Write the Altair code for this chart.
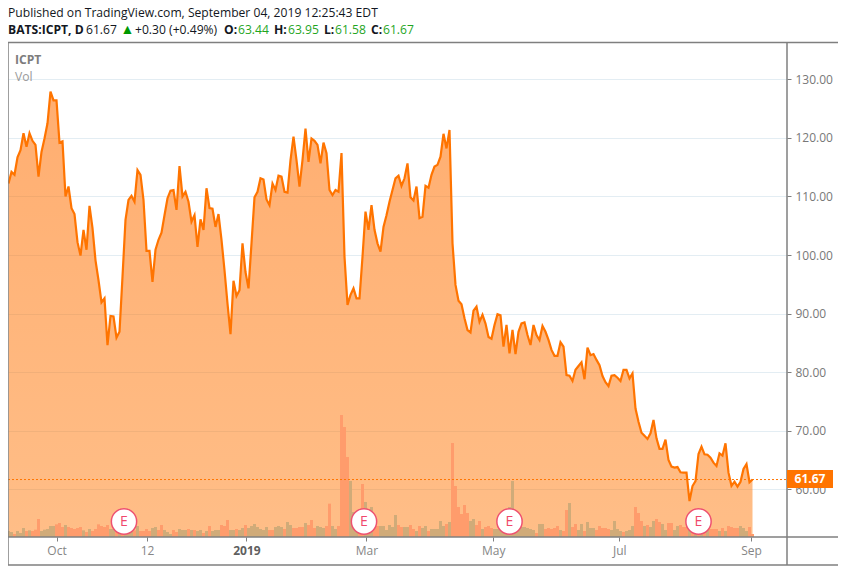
import altair as alt
import pandas as pd

close = [
    112.2, 114.2, 113.7, 116.7, 117.9, 120.8, 118.5, 120.8, 119.5, 118.8,
    113.4, 117.6, 119.9, 122.5, 127.9, 126.4, 126.4, 119.2, 119.4, 110.0,
    111.7, 108.0, 107.0, 102.2, 99.9, 104.3, 100.9, 108.4, 104.6, 99.1,
    95.7, 91.9, 92.6, 84.6, 89.6, 89.5, 85.9, 86.9, 96.3, 106.0,
    109.4, 110.1, 109.1, 114.5, 113.7, 109.4, 100.7, 100.7, 95.4, 100.9,
    102.6, 103.8, 106.8, 109.7, 111.0, 111.1, 107.7, 115.2, 110.0, 110.8,
    109.1, 105.7, 106.8, 101.4, 106.1, 104.3, 111.4, 108.0, 107.9, 104.8,
    107.0, 102.6, 97.4, 91.7, 86.5, 95.6, 93.0, 94.0, 102.0, 97.1, 94.3,
    102.0, 109.85, 110.8, 113.1, 112.9, 109.5, 108.5, 112.2, 111.1, 113.55,
    113.4, 110.8, 110.65, 116.2, 120.2, 116.2, 111.7, 116.2, 121.6, 115.9,
    119.9, 119.5, 118.8, 115.65, 119.2, 117.4, 111.1, 110.25, 111.1, 110.8,
    117.4, 99.7, 91.5, 93.2, 94.3, 92.6, 92.6, 99.7, 107.4, 104.3,
    108.5, 104.3, 102.0, 100.6, 104.8, 106.8, 109.1, 111.1, 113.1, 113.55,
    111.8, 113.1, 115.65, 109.85, 109.3, 111.7, 106.3, 106.55, 111.8, 111.5,
    113.7, 115.1, 115.4, 116.8, 120.7, 118.2, 121.35,
    102.0, 94.9, 92.2, 91.6, 89.2, 87.2, 86.8, 90.5, 91.2, 88.6, 89.8, 88.3, 86.0,
    85.7, 88.06, 89.9, 89.7, 84.35, 88.06, 83.2, 87.2, 83.1, 86.9,
    88.34, 88.5, 86.35, 84.64, 88.06, 86.35, 85.5, 87.9, 86.9, 85.5,
    83.8, 82.8, 82.8, 85.1, 84.35, 79.5, 79.4, 78.5, 80.4, 81.06,
    81.7, 78.8, 84.2, 82.9, 83.1, 82.1, 81.2, 79.35, 78.3, 77.64,
    79.4, 79.5, 79.06, 78.5, 80.4, 80.4, 78.95, 79.8, 73.8, 71.55,
    69.67, 69.16, 68.6, 69.56, 71.84, 68.7, 66.9, 66.9, 68.5, 65.0,
    63.87, 63.7, 63.8, 62.9, 62.84, 62.84, 58.0, 60.56, 61.4, 66.03,
    67.28, 65.97, 65.9, 65.4, 64.55, 63.98, 66.14, 65.75, 67.85, 62.84,
    60.6, 61.3, 60.45, 61.3, 63.47, 64.32, 61.2, 61.67,
]

volume = [
    18, 15, 9, 18, 12, 27, 18, 20, 18, 22,
    54, 18, 22, 24, 33, 33, 38, 42, 30, 36,
    30, 27, 24, 27, 30, 20, 15, 24, 18, 24,
    38, 33, 30, 36, 24, 24, 20, 24, 20, 24,
    20, 24, 20, 33, 18, 18, 24, 18, 27, 30,
    21, 36, 21, 15, 9, 21, 15, 24, 21, 21,
    24, 21, 21, 18, 21, 12, 18, 33, 18, 21,
    21, 36, 33, 51, 21, 21, 24, 21, 27, 36,
    27, 33, 39, 30, 24, 21, 30, 21, 21, 30,
    33, 30, 24, 45, 36, 27, 27, 30, 30, 42,
    36, 51, 27, 33, 30, 27, 33, 100, 33, 24,
    33, 366, 330, 240, 168, 75, 75, 60, 159, 105,
    75, 90, 50, 33, 33, 33, 21, 36, 30, 66,
    36, 30, 30, 30, 36, 24, 18, 33, 27, 33,
    18, 24, 24, 24, 48, 33, 39, 45, 282, 153,
    90, 69, 96, 72, 48, 54, 36, 48, 24, 30,
    33, 27, 24, 24, 24, 24, 30, 90, 168, 30,
    30, 30, 30, 27, 24, 21, 12, 39, 39, 24,
    27, 24, 27, 33, 21, 18, 81, 102, 30, 39,
    21, 39, 18, 45, 27, 27, 21, 33, 27, 27,
    24, 21, 48, 24, 18, 15, 18, 21, 33, 90,
    72, 48, 33, 36, 30, 48, 54, 45, 39, 21,
    42, 42, 21, 33, 36, 30, 30, 27, 27, 30,
    27, 30, 24, 27, 24, 24, 24, 18, 27, 18,
    33, 30, 27, 27, 33, 27, 18, 30, 9,
]

direction = list(
    "ttrtttrtrr" "rtttttrrrt" "rrrrrtrtrr" "rrrrttrtrt" "ttrtrrrrtt"
    "rrtttrrttt" "rtrttrtrtt" "trrrttrttr" "tttttttrrt" "ttrttrrrrt"
    "rrrtttrrtt" "rrrrtttrrt" "ttrrtttttt" "rrttrrtrtt" "rtttttrtrr"
    "rrrrttrrtr" "rrtttttttt" "ttttttrttr" "rrrrtrrtrr" "ttrtttrrrr"
    "rttttrtttr" "rrtrttrrtt" "rrttrrrtrt" "rtrtrrrtrt" "rrrrtttrr"
)

earnings_idx = [38.5, 118.5, 167, 230]
x_tick_idx = [16, 46.2, 79.3, 119.3, 161.6, 203.6, 247.5]
x_tick_labels = ["Oct", "12", "2019", "Mar", "May", "Jul", "Sep"]
y_ticks = [60, 70, 80, 90, 100, 110, 120, 130]
last_price = 61.67
price_floor = 51.86

FONT = "Open Sans"
W, H = 779, 494
TOP = 35
ORANGE = "#ff7400"
FRAME = "#7f7f7f"
GREEN = "#1fa51f"

df = pd.DataFrame({
    "i": list(range(len(close))),
    "close": close,
    "volume": volume,
    "dir": direction,
})
edf = pd.DataFrame({"i": earnings_idx})
one = pd.DataFrame({"a": [0]})

x_enc_scale = alt.Scale(domain=[-1 / 6, (W - 0.5) / 3], nice=False, zero=False, padding=0)
price_scale = alt.Scale(domain=[price_floor, 136.2], nice=False, zero=False)
vol_scale = alt.Scale(domain=[0, H * 3], nice=False, zero=False)

tick_js = "[" + ",".join(str(v) for v in x_tick_idx) + "]"
lab_js = "[" + ",".join("'%s'" % v for v in x_tick_labels) + "]"
x_axis = alt.Axis(
    values=x_tick_idx,
    labelExpr=f"{lab_js}[indexof({tick_js}, datum.value)]",
    title=None,
    grid=False,
    domain=False,
    ticks=True,
    tickSize=4,
    tickColor=FRAME,
    tickWidth=1,
    labelFont=FONT,
    labelFontSize=12,
    labelColor={"condition": {"test": "datum.value == 79.3", "value": "#5f5f5f"}, "value": "#868686"},
    labelFontWeight={"condition": {"test": "datum.value == 79.3", "value": "bold"}, "value": "normal"},
    labelPadding=4,
    labelFlush=False,
    labelOverlap=False,
)
y_axis = alt.Axis(
    orient="right",
    values=y_ticks,
    format=".2f",
    title=None,
    domain=False,
    grid=True,
    gridColor="#e3edf3",
    gridWidth=1,
    tickSize=4,
    tickColor=FRAME,
    labelFont=FONT,
    labelFontSize=12,
    labelColor="#787878",
    labelPadding=4,
    labelOverlap=False,
)

X = alt.X("i:Q", scale=x_enc_scale, axis=x_axis)

area = alt.Chart(df).mark_area(
    color=alt.Gradient(
        gradient="linear", x1=0, x2=0, y1=0, y2=1,
        stops=[
            alt.GradientStop(color="rgba(255,110,0,0.56)", offset=0),
            alt.GradientStop(color="rgba(255,116,0,0.47)", offset=1),
        ],
    ),
    interpolate="linear",
).encode(
    x=X,
    y=alt.Y("close:Q", scale=price_scale, axis=y_axis),
    y2=alt.Y2(datum=price_floor),
)

bars = alt.Chart(df).mark_bar(size=3, stroke=None).encode(
    x=X,
    y=alt.Y("volume:Q", scale=vol_scale, axis=None),
    y2=alt.value(H),
    color=alt.Color("dir:N", legend=None,
                    scale=alt.Scale(domain=["r", "t"], range=["#ff9c6c", "#d0ab79"])),
)

line = alt.Chart(df).mark_line(color=ORANGE, strokeWidth=2.2, interpolate="linear").encode(
    x=X,
    y=alt.Y("close:Q", scale=price_scale, axis=None),
)

last_rule = alt.Chart(one).mark_rule(color=ORANGE, strokeWidth=1, strokeDash=[2, 2]).encode(
    x=alt.value(0),
    x2=alt.value(W),
    y=alt.datum(last_price, scale=price_scale, axis=None),
)

earn_circle = alt.Chart(edf).mark_circle(
    size=640, fill="white", stroke="#ee5170", strokeWidth=1.5, opacity=1, fillOpacity=1
).encode(x=X, y=alt.value(478.5))
earn_text = alt.Chart(edf).mark_text(
    text="E", font=FONT, fontSize=14, color="#f0486c", align="center", baseline="middle"
).encode(x=X, y=alt.value(478.5))


def rule(x, x2, y, y2):
    return alt.Chart(one).mark_rule(color=FRAME, strokeWidth=1.5).encode(
        x=alt.value(x), x2=alt.value(x2), y=alt.value(y), y2=alt.value(y2)
    )


frame = [
    rule(0, 831, -0.5, -0.5),
    rule(0, 831, 522, 522),
    rule(0, 0, -0.5, 522),
    rule(831, 831, -0.5, 522),
    rule(W, W, -0.5, 522),
    rule(0, 831, H, H),
]

price_box = alt.Chart(one).mark_rect(color=ORANGE).encode(
    x=alt.value(W),
    x2=alt.value(W + 46),
    y=alt.value(427),
    y2=alt.value(445),
)


def label(s, x, y, color="#131722", weight="normal", size=12.13, align="left"):
    return alt.Chart(one).mark_text(
        font=FONT, fontSize=size, fontWeight=weight, color=color, align=align, baseline="middle"
    ).encode(x=alt.value(x), y=alt.value(y), text=alt.value(s))


H1 = 13 - 8 - TOP
H2 = 29.5 - 8 - TOP
texts = [
    ("Published on TradingView.com, September 04, 2019 12:25:43 EDT", 0, H1, "#131722", "normal"),
    ("BATS:ICPT, D", 0, H2, "#131722", "bold"),
    ("61.67", 78, H2, "#131722", "normal"),
    ("+0.30 (+0.49%)", 127, H2, "#131722", "normal"),
    ("O:", 216, H2, "#131722", "bold"),
    ("63.44", 230, H2, GREEN, "normal"),
    ("H:", 266, H2, "#131722", "bold"),
    ("63.95", 280, H2, GREEN, "normal"),
    ("L:", 316, H2, "#131722", "bold"),
    ("61.58", 327, H2, GREEN, "normal"),
    ("C:", 363, H2, "#131722", "bold"),
    ("61.67", 375, H2, GREEN, "normal"),
    ("ICPT", 7, 17, "#7d7d7d", "bold"),
    ("Vol", 7, 34, "#9a9a9a", "normal"),
]
text_layers = [label(*t) for t in texts]
triangle = label("▲", 112.5, H2, "#009900", "normal", 14)
price_text = label("61.67", W + 23, 436, "white", "bold", 12, "center")

chart = alt.layer(
    area, bars, line, last_rule, earn_circle, earn_text,
    *frame, price_box, price_text, triangle, *text_layers,
).resolve_scale(y="independent").properties(
    width=W,
    height=H,
    padding={"left": 0, "top": TOP, "right": 846 - 16 - W, "bottom": 29},
    autosize=alt.AutoSizeParams(type="none"),
    background="white",
).configure_view(stroke=None)

chart.save("out.html", embed_options={"renderer": "svg", "actions": False})
